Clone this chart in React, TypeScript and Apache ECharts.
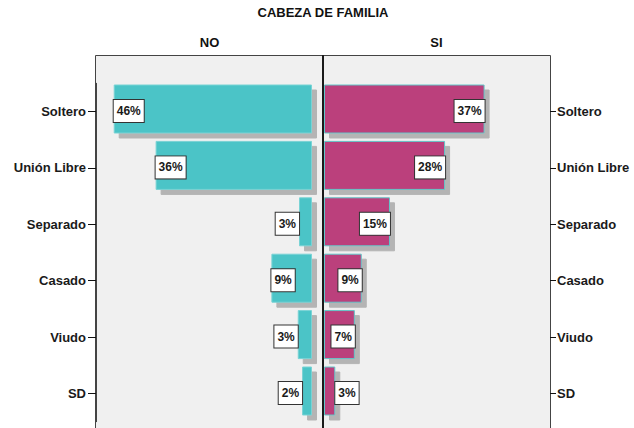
import { useEffect, useRef } from 'react';
import * as echarts from 'echarts';

const chartTitle = 'CABEZA DE FAMILIA';
const panelTitles = ['NO', 'SI'];
const categories = ['Soltero', 'Unión Libre', 'Separado', 'Casado', 'Viudo', 'SD'];
const noValues = [45.9, 36.2, 3.0, 9.4, 3.3, 2.3];
const siValues = [37.0, 27.9, 15.2, 8.7, 7.1, 2.6];
const padValues = [0, 0, 0, 0, 0, 0];

const FONT = "'Liberation Sans', Arial, sans-serif";
const TEAL = '#4bc4c7';
const PINK = '#bb3f7b';
const SHADOW = '#b4b4b4';
const AXIS_MAX = 50;
const INSIDE_MIN = 5.5;

const labelBox = {
  show: true,
  distance: 0,
  offset: [0, 2],
  color: '#1a1a1a',
  fontWeight: 'bold' as const,
  fontSize: 12,
  fontFamily: FONT,
  lineHeight: 14,
  backgroundColor: '#ffffff',
  borderColor: '#333333',
  borderWidth: 1,
  padding: [4, 3, 4, 3],
  formatter: (p: any) => Math.round(p.value) + '%',
};

export default function App() {
  const ref = useRef<HTMLDivElement>(null);
  useEffect(() => {
    if (!ref.current) return;
    const chart = echarts.init(ref.current, null, { renderer: 'svg' });
    const yAxisBase = (gridIndex: number, position: 'left' | 'right', offset: number, margin: number, tickLen: number) => ({
      gridIndex,
      type: 'category' as const,
      data: categories,
      inverse: true,
      position,
      offset,
      z: 6,
      axisLine: { show: true, onZero: false, lineStyle: { color: '#444', width: 1 } },
      axisTick: { show: true, inside: false, length: tickLen, alignWithLabel: true, lineStyle: { color: '#111', width: 1 } },
      axisLabel: { margin, color: '#1a1a1a', fontWeight: 'bold', fontSize: 13, fontFamily: FONT },
      splitLine: { show: false },
    });
    const makeSeries = (values: number[], idx: number, color: string, border: string, inPos: string, outPos: string) => ({
      type: 'bar',
      xAxisIndex: idx,
      yAxisIndex: idx,
      barWidth: 49,
      barGap: 0,
      data: values.map((v) => ({ value: v, label: { position: v >= INSIDE_MIN ? inPos : outPos } })),
      itemStyle: {
        color,
        borderColor: border,
        borderWidth: 1,
        shadowColor: SHADOW,
        shadowBlur: 0,
        shadowOffsetX: 5,
        shadowOffsetY: 5,
      },
      label: labelBox,
      z: 3,
    });
    const padSeries = (idx: number) => ({
      type: 'bar',
      xAxisIndex: idx,
      yAxisIndex: idx,
      barWidth: 5,
      barGap: 0,
      data: padValues,
      itemStyle: { color: 'rgba(0,0,0,0)' },
      silent: true,
      label: { show: false },
    });
    chart.setOption({
      animation: false,
      backgroundColor: '#ffffff',
      grid: [
        { left: 96, top: 83.3, width: 216, height: 338.4 },
        { left: 324, top: 83.3, width: 217, height: 338.4 },
      ],
      xAxis: [
        { gridIndex: 0, type: 'value', min: 0, max: AXIS_MAX, inverse: true, show: false },
        { gridIndex: 1, type: 'value', min: 0, max: AXIS_MAX, show: false },
      ],
      yAxis: [yAxisBase(0, 'left', 0, 10, 8), yAxisBase(1, 'right', 9, 7, 6)],
      series: [
        makeSeries(noValues, 0, TEAL, '#79d3d5', 'insideLeft', 'left'),
        padSeries(0),
        makeSeries(siValues, 1, PINK, '#62c6c9', 'insideRight', 'right'),
        padSeries(1),
      ],
      graphic: {
        elements: [
          {
            type: 'rect',
            z: -1,
            shape: { x: 95.5, y: 55.5, width: 455, height: 400 },
            style: { fill: '#f0f0f0', stroke: '#444', lineWidth: 1 },
            silent: true,
          },
          {
            type: 'line',
            z: 10,
            shape: { x1: 323, y1: 55, x2: 323, y2: 440 },
            style: { stroke: '#1a1a1a', lineWidth: 2 },
            silent: true,
          },
          {
            type: 'text',
            x: 323,
            y: 12.5,
            style: {
              text: chartTitle,
              fill: '#111',
              font: `bold 13px ${FONT}`,
              align: 'center',
              verticalAlign: 'middle',
              textAlign: 'center',
              textVerticalAlign: 'middle',
            },
          },
          {
            type: 'text',
            x: 209.5,
            y: 42.5,
            style: {
              text: panelTitles[0],
              fill: '#111',
              font: `bold 13px ${FONT}`,
              align: 'center',
              verticalAlign: 'middle',
              textAlign: 'center',
              textVerticalAlign: 'middle',
            },
          },
          {
            type: 'text',
            x: 436.5,
            y: 42.5,
            style: {
              text: panelTitles[1],
              fill: '#111',
              font: `bold 13px ${FONT}`,
              align: 'center',
              verticalAlign: 'middle',
              textAlign: 'center',
              textVerticalAlign: 'middle',
            },
          },
        ],
      },
    });
    return () => chart.dispose();
  }, []);
  return <div ref={ref} style={{ position: 'fixed', left: 0, top: 0, width: 634, height: 428 }} />;
}
